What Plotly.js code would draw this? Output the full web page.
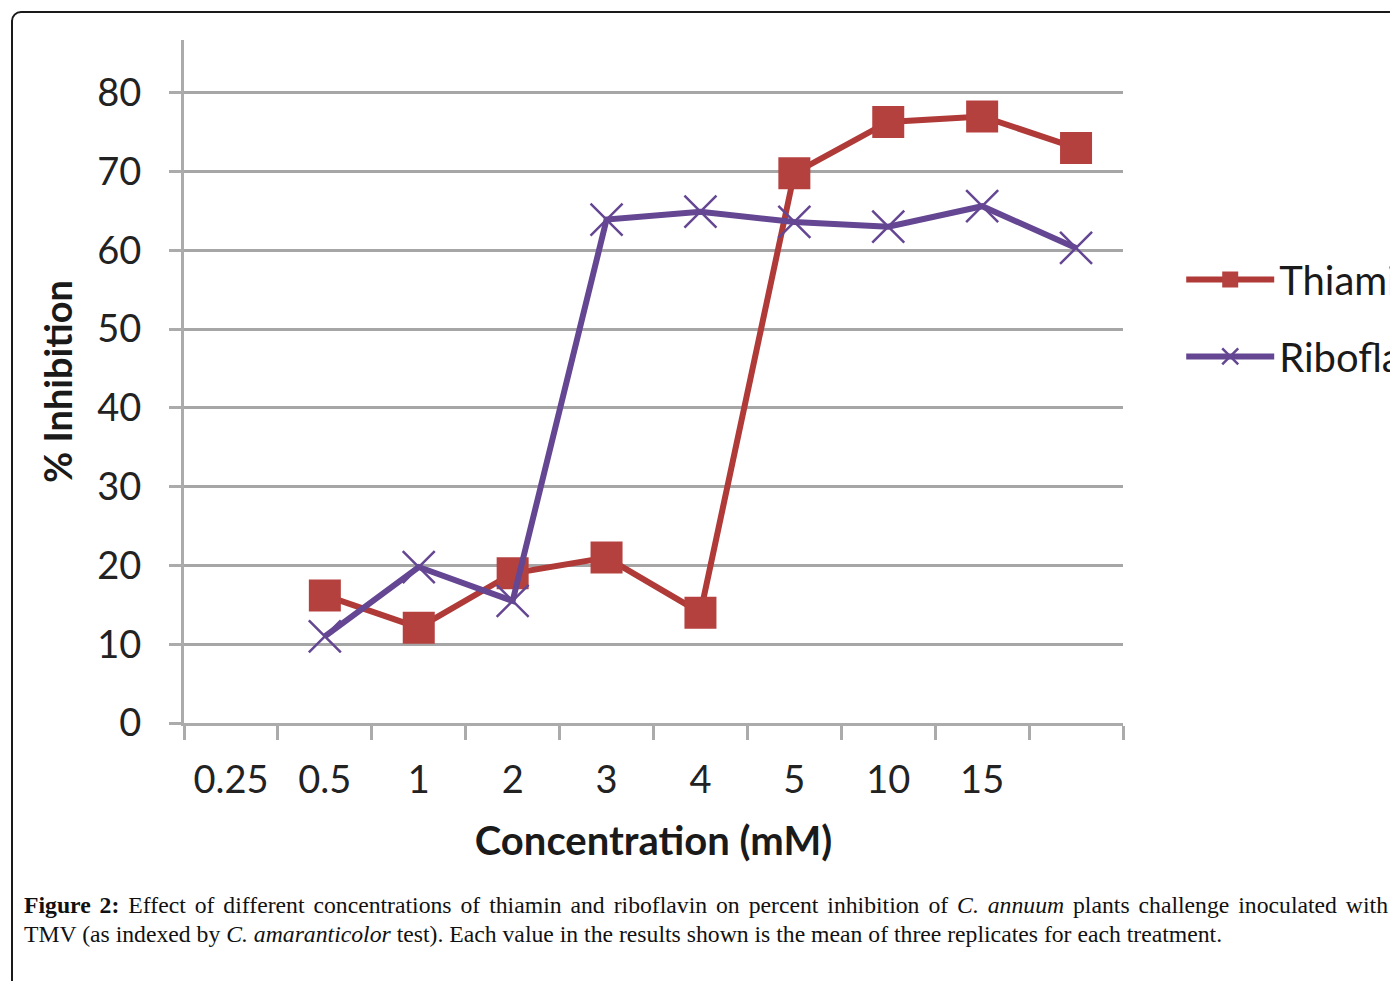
<!DOCTYPE html>
<html>
<head>
<meta charset="utf-8">
<script src="https://cdn.plot.ly/plotly-3.0.1.min.js"></script>
<style>
  html, body { margin: 0; padding: 0; background: #fff; width: 1390px; height: 981px; overflow: hidden; position: relative; }
  #frame { position: absolute; left: 11px; top: 11px; width: 1500px; height: 1100px; border: 2px solid #1a1a1a; border-radius: 10px; pointer-events: none; box-sizing: border-box; }
  #chart { position: absolute; left: 0; top: 0; width: 1500px; height: 870px; }
  .cap { position: absolute; left: 24px; width: 1364px; font-family: "Liberation Serif", "DejaVu Serif", serif; font-size: 23.7px; color: #111; white-space: nowrap; }
  #cap1 { top: 892px; text-align: justify; text-align-last: justify; white-space: normal; }
  #cap2 { top: 921px; }
</style>
</head>
<body>
<div id="chart"></div>
<div id="frame"></div>
<div id="cap1" class="cap"><b>Figure 2:</b> Effect of different concentrations of thiamin and riboflavin on percent inhibition of <i>C. annuum</i> plants challenge inoculated with</div>
<div id="cap2" class="cap">TMV (as indexed by <i>C. amaranticolor</i> test). Each value in the results shown is the mean of three replicates for each treatment.</div>
<script>
// Category labels as printed under the axis (labels sit one slot left of the plotted points in the original)
const categories = ["0.25", "0.5", "1", "2", "3", "4", "5", "10", "15", ""];
const thiamin    = [null, 16.2, 12.1, 19.0, 21.0, 14.0, 69.8, 76.3, 77.0, 73.0];
const riboflavin = [null, 11.0, 19.8, 15.5, 63.9, 64.9, 63.6, 63.0, 65.6, 60.3];
const yTicks = [0, 10, 20, 30, 40, 50, 60, 70, 80];

const slots = categories.map((c, i) => i + 1);

const font = "Lato, 'Open Sans', 'DejaVu Sans', sans-serif";

const traces = [
  {
    x: slots, y: thiamin, name: "Thiamin", type: "scatter", mode: "lines+markers",
    legendgroup: "a",
    line: { color: "#B03A37", width: 6 },
    marker: { symbol: "square", size: 32, color: "#B5413F" },
    connectgaps: false
  },
  {
    x: slots, y: riboflavin, name: "Riboflavin", type: "scatter", mode: "lines+markers",
    legendgroup: "b",
    line: { color: "#654693", width: 6 },
    marker: { symbol: "x-thin-open", size: 32, line: { color: "#A794C9", width: 2.5 } }
  }
];

const layout = {
  width: 1500, height: 870,
  margin: { l: 184, r: 377, t: 40, b: 147 },
  paper_bgcolor: "rgba(0,0,0,0)",
  plot_bgcolor: "rgba(0,0,0,0)",
  showlegend: true,
  legend: {
    x: 1.062, y: 0.593, xanchor: "left", yanchor: "middle",
    font: { family: font, size: 40, color: "#1a1a1a" },
    itemwidth: 88,
    traceorder: "grouped",
    tracegroupgap: 22,
    bgcolor: "rgba(0,0,0,0)"
  },
  xaxis: {
    range: [0.5, 10.5],
    tickmode: "array",
    tickvals: slots,
    ticktext: categories,
    ticks: "",
    ticklabelstandoff: 21,
    tickfont: { family: font, size: 38, color: "#222" },
    showgrid: false,
    zeroline: false,
    showline: true,
    linecolor: "#ABABAB",
    linewidth: 3,
    minor: { tickmode: "linear", tick0: 0.5, dtick: 1, ticks: "outside", ticklen: 14, tickwidth: 3, tickcolor: "#ABABAB", showgrid: false },
    title: { text: "<b>Concentration (mM)</b>", font: { family: font, size: 40, color: "#1a1a1a" }, standoff: 28 },
    fixedrange: true
  },
  yaxis: {
    range: [0, 86.7],
    tickmode: "array",
    tickvals: yTicks,
    ticktext: yTicks.map(String),
    ticks: "outside",
    ticklen: 12,
    tickwidth: 3,
    tickcolor: "#ABABAB",
    ticklabelstandoff: 20,
    tickfont: { family: font, size: 38, color: "#222" },
    showgrid: true,
    gridcolor: "#A6A6A6",
    gridwidth: 3,
    zeroline: false,
    showline: true,
    linecolor: "#ABABAB",
    linewidth: 3,
    title: { text: "<b>% Inhibition</b>", font: { family: font, size: 38, color: "#1a1a1a" }, standoff: 14 },
    fixedrange: true
  }
};

Plotly.newPlot("chart", traces, layout, { displayModeBar: false, staticPlot: true });
</script>
</body>
</html>
